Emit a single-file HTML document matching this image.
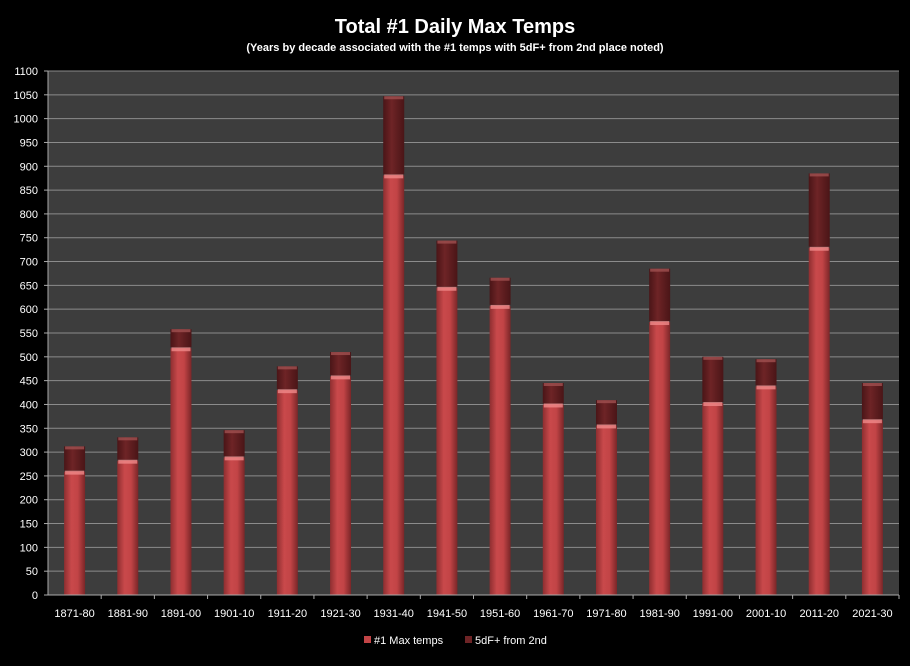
<!DOCTYPE html>
<html><head><meta charset="utf-8"><style>
body{margin:0;background:#000;width:910px;height:661px;overflow:hidden;font-family:"Liberation Sans",sans-serif}
</style></head><body>
<svg id="c" width="910" height="661">
<defs>
<linearGradient id="gr" x1="0" x2="1"><stop offset="0" stop-color="#8e2e30"/><stop offset="0.35" stop-color="#c9494b"/><stop offset="0.65" stop-color="#c24446"/><stop offset="1" stop-color="#7a2628"/></linearGradient>
<linearGradient id="gd" x1="0" x2="1"><stop offset="0" stop-color="#4a1517"/><stop offset="0.4" stop-color="#6e2426"/><stop offset="1" stop-color="#4a1517"/></linearGradient>
</defs>
<text x="455" y="33" fill="#fff" font-size="20" font-weight="bold" text-anchor="middle">Total #1 Daily Max Temps</text>
<text x="455" y="51" fill="#fff" font-size="11" font-weight="bold" text-anchor="middle">(Years by decade associated  with the #1 temps with 5dF+ from 2nd place  noted)</text>
<rect x="48" y="71" width="851" height="524" fill="#3d3d3d"/>
<g id="grid"></g><g id="bars"></g><g id="axes"></g>
<g>
<rect x="364" y="636" width="7" height="7" fill="#c24446"/>
<text x="374" y="644" fill="#fff" font-size="11">#1 Max temps</text>
<rect x="465" y="636" width="7" height="7" fill="#6e2426"/>
<text x="475" y="644" fill="#fff" font-size="11">5dF+ from 2nd</text>
</g>
</svg>
<script>
const categories=["1871-80","1881-90","1891-00","1901-10","1911-20","1921-30","1931-40","1941-50","1951-60","1961-70","1971-80","1981-90","1991-00","2001-10","2011-20","2021-30"];
const maxTemps=[259,282,518,289,430,459,881,645,607,400,356,573,403,438,729,367];
const fiveDF=[53,49,40,57,50,51,166,99,59,45,53,112,97,57,156,78];
const yTicks=[0,50,100,150,200,250,300,350,400,450,500,550,600,650,700,750,800,850,900,950,1000,1050,1100];
const NS="http://www.w3.org/2000/svg";
const X0=48,W=851,Y0=595,H=524,YMAX=1100;
const y=v=>Y0-v/YMAX*H;
const bw=W/categories.length;
const xc=i=>X0+bw*(i+0.5);
function mk(t,a,p){const e=document.createElementNS(NS,t);for(const k in a)e.setAttribute(k,a[k]);p.appendChild(e);return e;}
const g=document.getElementById('grid'),b=document.getElementById('bars'),ax=document.getElementById('axes');
yTicks.forEach(v=>{
 if(v>0){const l=mk('line',{x1:X0,x2:X0+W,y1:y(v),y2:y(v),stroke:'#8c8c8c','stroke-width':1},g);
 
 }
 const t=mk('text',{x:X0-10,y:y(v)+4,fill:'#fff','font-size':11,'text-anchor':'end'},ax);t.textContent=v;
 
 
 mk('line',{x1:X0-4,x2:X0,y1:y(v),y2:y(v),stroke:'#aaa'},ax);
});
mk('line',{x1:X0,x2:X0,y1:y(YMAX),y2:Y0,stroke:'#aaa'},ax);
mk('line',{x1:X0,x2:X0+W,y1:Y0,y2:Y0,stroke:'#aaa'},ax);
categories.forEach((c,i)=>{
 const x=xc(i)-10.5, w=21;
 const r=mk('rect',{x:x,y:y(maxTemps[i]),width:w,height:Y0-y(maxTemps[i]),fill:'url(#gr)'},b);
 
 
 mk('rect',{x:x+1,y:y(maxTemps[i])-1,width:w-2,height:4,fill:'#f08a8a',opacity:0.8},b);
 const tot=maxTemps[i]+fiveDF[i];
 const d=mk('rect',{x:x,y:y(tot),width:w,height:y(maxTemps[i])-y(tot)-1,fill:'url(#gd)'},b);
 
 
 mk('rect',{x:x+1,y:y(tot),width:w-2,height:3,fill:'#a05050',opacity:0.8},b);
 mk('line',{x1:X0+bw*(i+1),x2:X0+bw*(i+1),y1:Y0,y2:Y0+4,stroke:'#aaa'},ax);
 const t=mk('text',{x:xc(i),y:617,fill:'#fff','font-size':11,'text-anchor':'middle'},ax);t.textContent=c;
 
 
});
</script>
</body></html>
